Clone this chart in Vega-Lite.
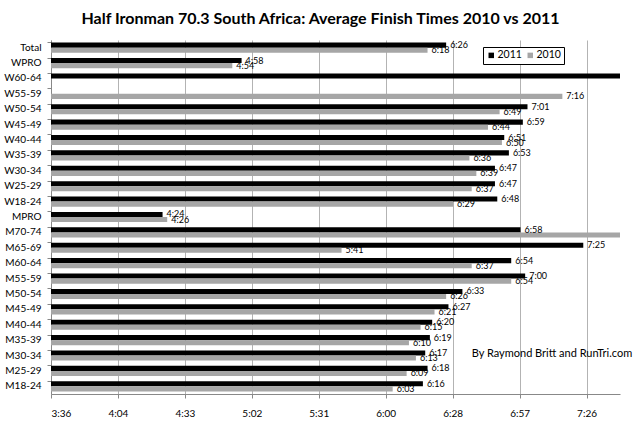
{
  "$schema": "https://vega.github.io/schema/vega-lite/v6.json",
  "width": 569,
  "height": 354,
  "autosize": "none",
  "padding": {"left": 51, "top": 40, "right": 20, "bottom": 42},
  "background": "#ffffff",
  "config": {
    "font": "Lato",
    "view": {"stroke": null}
  },
  "title": {
    "text": "Half Ironman 70.3 South Africa: Average Finish Times 2010 vs 2011",
    "fontSize": 16,
    "fontWeight": "bold",
    "font": "Lato",
    "color": "#000000",
    "anchor": "middle",
    "offset": 13,
    "dx": -15
  },
  "data": {
    "values": [
      {"group": "Total", "year": "2011", "min": 386, "t": "6:26"},
      {"group": "Total", "year": "2010", "min": 378, "t": "6:18"},
      {"group": "WPRO", "year": "2011", "min": 298, "t": "4:58"},
      {"group": "WPRO", "year": "2010", "min": 294, "t": "4:54"},
      {"group": "W60-64", "year": "2011", "min": 480, "t": "8:00"},
      {"group": "W55-59", "year": "2010", "min": 436, "t": "7:16"},
      {"group": "W50-54", "year": "2011", "min": 421, "t": "7:01"},
      {"group": "W50-54", "year": "2010", "min": 409, "t": "6:49"},
      {"group": "W45-49", "year": "2011", "min": 419, "t": "6:59"},
      {"group": "W45-49", "year": "2010", "min": 404, "t": "6:44"},
      {"group": "W40-44", "year": "2011", "min": 411, "t": "6:51"},
      {"group": "W40-44", "year": "2010", "min": 410, "t": "6:50"},
      {"group": "W35-39", "year": "2011", "min": 413, "t": "6:53"},
      {"group": "W35-39", "year": "2010", "min": 396, "t": "6:36"},
      {"group": "W30-34", "year": "2011", "min": 407, "t": "6:47"},
      {"group": "W30-34", "year": "2010", "min": 399, "t": "6:39"},
      {"group": "W25-29", "year": "2011", "min": 407, "t": "6:47"},
      {"group": "W25-29", "year": "2010", "min": 397, "t": "6:37"},
      {"group": "W18-24", "year": "2011", "min": 408, "t": "6:48"},
      {"group": "W18-24", "year": "2010", "min": 389, "t": "6:29"},
      {"group": "MPRO", "year": "2011", "min": 264, "t": "4:24"},
      {"group": "MPRO", "year": "2010", "min": 266, "t": "4:26"},
      {"group": "M70-74", "year": "2011", "min": 418, "t": "6:58"},
      {"group": "M70-74", "year": "2010", "min": 480, "t": "8:00"},
      {"group": "M65-69", "year": "2011", "min": 445, "t": "7:25"},
      {"group": "M65-69", "year": "2010", "min": 341, "t": "5:41"},
      {"group": "M60-64", "year": "2011", "min": 414, "t": "6:54"},
      {"group": "M60-64", "year": "2010", "min": 397, "t": "6:37"},
      {"group": "M55-59", "year": "2011", "min": 420, "t": "7:00"},
      {"group": "M55-59", "year": "2010", "min": 414, "t": "6:54"},
      {"group": "M50-54", "year": "2011", "min": 393, "t": "6:33"},
      {"group": "M50-54", "year": "2010", "min": 386, "t": "6:26"},
      {"group": "M45-49", "year": "2011", "min": 387, "t": "6:27"},
      {"group": "M45-49", "year": "2010", "min": 381, "t": "6:21"},
      {"group": "M40-44", "year": "2011", "min": 380, "t": "6:20"},
      {"group": "M40-44", "year": "2010", "min": 375, "t": "6:15"},
      {"group": "M35-39", "year": "2011", "min": 379, "t": "6:19"},
      {"group": "M35-39", "year": "2010", "min": 370, "t": "6:10"},
      {"group": "M30-34", "year": "2011", "min": 377, "t": "6:17"},
      {"group": "M30-34", "year": "2010", "min": 373, "t": "6:13"},
      {"group": "M25-29", "year": "2011", "min": 378, "t": "6:18"},
      {"group": "M25-29", "year": "2010", "min": 369, "t": "6:09"},
      {"group": "M18-24", "year": "2011", "min": 376, "t": "6:16"},
      {"group": "M18-24", "year": "2010", "min": 363, "t": "6:03"}
    ]
  },
  "encoding": {
    "y": {
      "field": "group",
      "type": "nominal",
      "sort": ["Total","WPRO","W60-64","W55-59","W50-54","W45-49","W40-44","W35-39","W30-34","W25-29","W18-24","MPRO","M70-74","M65-69","M60-64","M55-59","M50-54","M45-49","M40-44","M35-39","M30-34","M25-29","M18-24"],
      "scale": {
        "domain": ["Total","WPRO","W60-64","W55-59","W50-54","W45-49","W40-44","W35-39","W30-34","W25-29","W18-24","MPRO","M70-74","M65-69","M60-64","M55-59","M50-54","M45-49","M40-44","M35-39","M30-34","M25-29","M18-24"],
        "paddingInner": 0.34,
        "paddingOuter": 0.17
      },
      "axis": {
        "title": null,
        "labelFontSize": 10,
        "labelColor": "#000000",
        "labelPadding": 6,
        "bandPosition": 0,
        "tickSize": 4,
        "tickColor": "#888888",
        "domainColor": "#888888",
        "labelFont": "Lato"
      }
    },
    "yOffset": {
      "field": "year",
      "type": "nominal",
      "sort": ["2011", "2010"],
      "scale": {"domain": ["2011", "2010"], "paddingInner": 0, "paddingOuter": 0}
    },
    "x": {
      "field": "min",
      "type": "quantitative",
      "scale": {"domain": [216, 460.8], "nice": false, "zero": false},
      "axis": {
        "title": null,
        "values": [216, 244.8, 273.6, 302.4, 331.2, 360, 388.8, 417.6, 446.4],
        "labelExpr": "floor(datum.value/60) + ':' + (floor(datum.value%60) < 10 ? '0' : '') + floor(datum.value%60)",
        "labelFontSize": 10,
        "labelColor": "#000000",
        "labelPadding": 10,
        "grid": true,
        "gridColor": "#b3b3b3",
        "gridWidth": 1,
        "tickSize": 4,
        "tickColor": "#888888",
        "domainColor": "#888888",
        "labelFont": "Lato"
      }
    }
  },
  "layer": [
    {
      "mark": {"type": "bar", "clip": true},
      "encoding": {
        "color": {
          "field": "year",
          "type": "nominal",
          "scale": {"domain": ["2011", "2010"], "range": ["#000000", "#a6a6a6"]},
          "legend": {
            "title": null,
            "orient": "none",
            "legendX": 432,
            "legendY": 7,
            "direction": "horizontal",
            "symbolType": "square",
            "symbolSize": 30,
            "symbolStrokeWidth": 0,
            "labelFontSize": 10.5,
            "labelColor": "#000000",
            "labelFont": "Lato",
            "strokeColor": "#000000",
            "fillColor": "#ffffff",
            "padding": 3,
            "columnPadding": 3,
            "labelOffset": 1,
            "symbolOffset": 0
          }
        }
      }
    },
    {
      "transform": [{"filter": "datum.min <= 460.8"}],
      "mark": {"type": "text", "align": "left", "baseline": "middle", "dx": 4, "fontSize": 9, "color": "#000000"},
      "encoding": {
        "text": {"field": "t", "type": "nominal"}
      }
    },
    {
      "data": {"values": [{"note": "By Raymond Britt and RunTri.com", "min": 397, "group": "M30-34"}]},
      "mark": {"type": "text", "align": "left", "baseline": "middle", "fontSize": 11, "color": "#000000", "dy": -2},
      "encoding": {
        "yOffset": null,
        "text": {"field": "note", "type": "nominal"}
      }
    }
  ]
}
